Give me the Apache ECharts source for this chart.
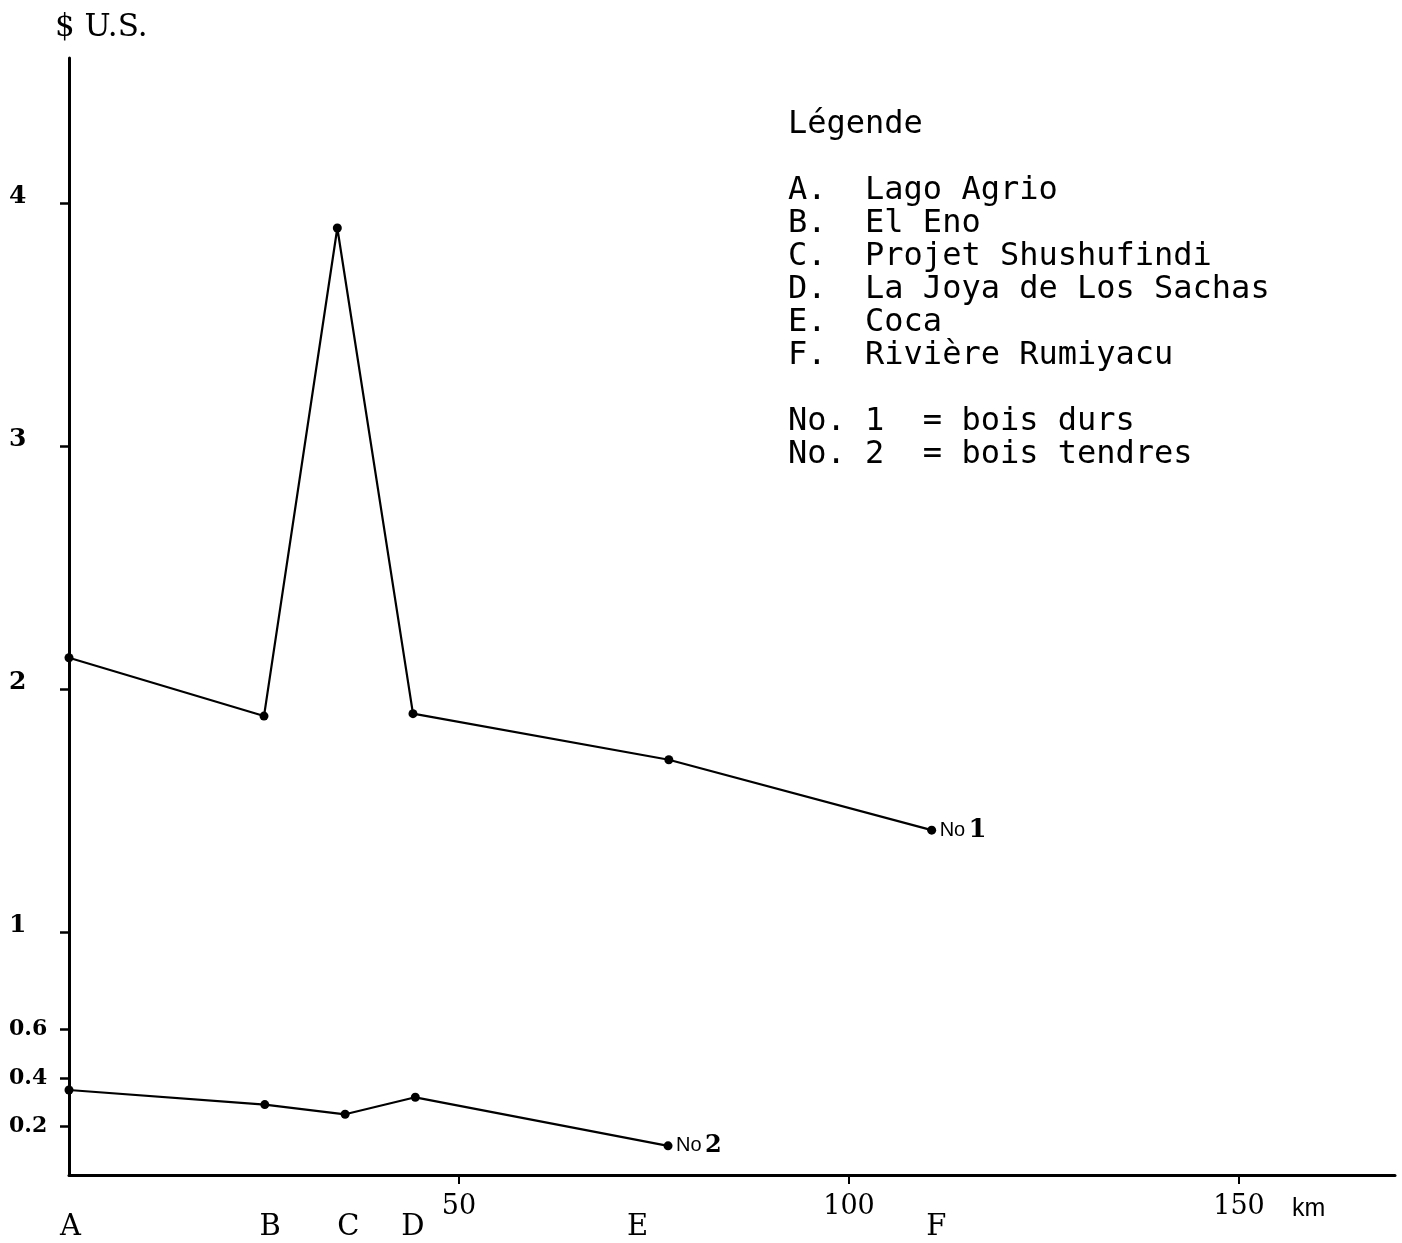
<!DOCTYPE html>
<html><head><meta charset="utf-8">
<script src="https://cdn.jsdelivr.net/npm/echarts@6/dist/echarts.min.js"></script>
<style>html,body{margin:0;padding:0;background:#fff}#c{width:1402px;height:1243px}</style>
</head><body><div id="c"></div>
<script>
// ---- data ----
const stations = ['A', 'B', 'C', 'D', 'E', 'F'];
const stationLabelKm = [0.2, 25.8, 35.8, 44.1, 72.9, 111.2];
const no1Km  = [0, 25.0, 34.4, 44.1, 76.9, 110.6];
const no1Val = [2.13, 1.89, 3.90, 1.90, 1.71, 1.42];
const no2Km  = [0, 25.1, 35.4, 44.4, 76.8];
const no2Val = [0.35, 0.29, 0.25, 0.32, 0.12];
const yTicks = [0.2, 0.4, 0.6, 1, 2, 3, 4];
const xTicks = [50, 100, 150];
const legendLines = [
  'Légende', '',
  'A.  Lago Agrio',
  'B.  El Eno',
  'C.  Projet Shushufindi',
  'D.  La Joya de Los Sachas',
  'E.  Coca',
  'F.  Rivière Rumiyacu', '',
  'No. 1  = bois durs',
  'No. 2  = bois tendres'
];

const serif = 'DejaVu Serif';
const chart = echarts.init(document.getElementById('c'));
const lineSeries = (km, val, num) => ({
  type: 'line',
  data: km.map((k, i) => [k, val[i]]),
  symbol: 'circle', symbolSize: 9,
  itemStyle: { color: '#000' },
  lineStyle: { color: '#000', width: 2.2 },
  endLabel: {
    show: true, distance: 8,
    formatter: '{a|No} {b|' + num + '}',
    rich: {
      a: { fontFamily: 'Liberation Sans', fontSize: 20, color: '#000' },
      b: { fontFamily: serif, fontSize: num === 1 ? 26 : 24, fontWeight: 'bold', color: '#000' }
    }
  },
  z: 5
});

chart.setOption({
  backgroundColor: '#fff',
  animation: false,
  title: {
    text: legendLines.join('\n'),
    left: 783, top: 103,
    textStyle: { fontFamily: 'DejaVu Sans Mono', fontSize: 32, fontWeight: 'normal', lineHeight: 33, color: '#000' }
  },
  grid: { left: 69, right: 7, top: 58, bottom: 68 },
  xAxis: [{
    type: 'value', min: 0, max: 170, position: 'bottom',
    axisLine: { lineStyle: { color: '#000', width: 3 } },
    axisTick: { customValues: xTicks, length: 9, lineStyle: { color: '#000', width: 2 } },
    axisLabel: { customValues: xTicks, margin: 18, fontFamily: serif, fontSize: 27, color: '#000' },
    splitLine: { show: false }
  }, {
    type: 'value', min: 0, max: 170, position: 'bottom', offset: 0,
    axisLine: { show: false }, axisTick: { show: false },
    axisLabel: {
      customValues: stationLabelKm, margin: 38,
      formatter: v => stations[stationLabelKm.indexOf(v)],
      fontFamily: serif, fontSize: 29, color: '#000'
    },
    splitLine: { show: false }
  }],
  yAxis: {
    type: 'value', min: 0, max: 4.6,
    axisLine: { show: true, lineStyle: { color: '#000', width: 3 } },
    axisTick: { show: true, customValues: yTicks, length: 9, lineStyle: { color: '#000', width: 2.5 } },
    axisLabel: {
      customValues: yTicks, align: 'left', margin: 60,
      formatter: v => Number.isInteger(v) ? '{i|' + v + '}' : '{d|' + v.toFixed(1) + '}',
      rich: {
        i: { fontFamily: serif, fontSize: 25, fontWeight: 'bold', color: '#000', padding: [0, 0, 14, 0] },
        d: { fontFamily: serif, fontSize: 22, fontWeight: 'bold', color: '#000' }
      }
    },
    splitLine: { show: false }
  },
  graphic: [
    { type: 'text', left: 55, top: 12, style: { text: '$ U.S.', font: '31px "DejaVu Serif"', fill: '#000' } },
    { type: 'text', left: 1292, top: 1197, style: { text: 'km', font: '25px "Liberation Sans"', fill: '#000' } }
  ],
  series: [lineSeries(no1Km, no1Val, 1), lineSeries(no2Km, no2Val, 2)]
});
</script></body></html>
